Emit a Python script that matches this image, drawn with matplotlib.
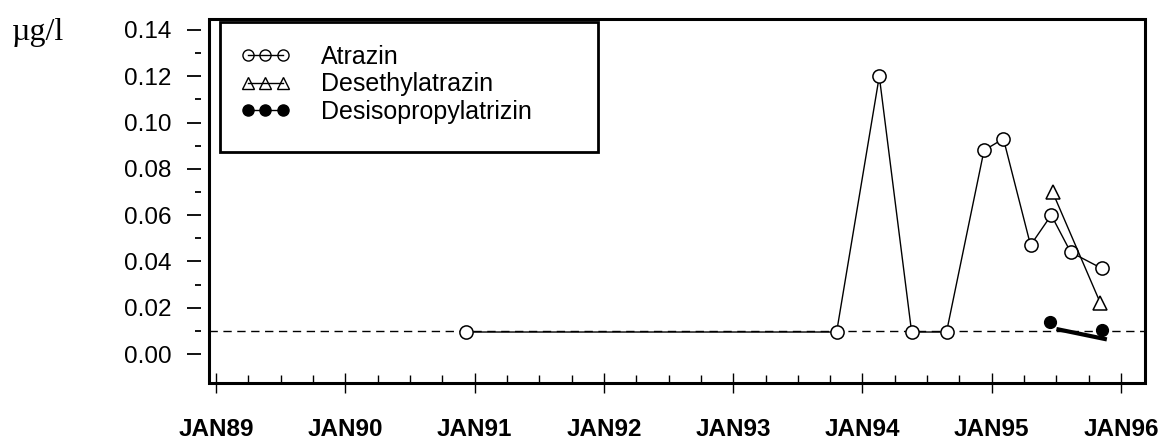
import matplotlib
matplotlib.use("Agg")
import matplotlib.pyplot as plt
from matplotlib.lines import Line2D
from matplotlib.patches import Rectangle
from matplotlib.ticker import FixedLocator, MultipleLocator

plt.rcParams['font.family'] = ['Liberation Sans', 'DejaVu Sans']

# ---- data (decimal years, µg/l) ----
atrazin_x = [1990.93, 1993.80, 1994.13, 1994.38, 1994.65, 1994.94, 1995.09, 1995.30, 1995.46, 1995.61, 1995.85]
atrazin_y = [0.0095, 0.0095, 0.120, 0.0095, 0.0095, 0.088, 0.093, 0.047, 0.060, 0.044, 0.037]

desethyl_x = [1995.47, 1995.84]
desethyl_y = [0.070, 0.022]

desiso_x = [1995.45, 1995.85]
desiso_y = [0.014, 0.0105]

desiso_line_x = [1995.50, 1995.89]
desiso_line_y = [0.0108, 0.0063]

limit_value = 0.01

year_ticks = [1989, 1990, 1991, 1992, 1993, 1994, 1995, 1996]
year_labels = ['JAN89', 'JAN90', 'JAN91', 'JAN92', 'JAN93', 'JAN94', 'JAN95', 'JAN96']
y_ticks = [0.00, 0.02, 0.04, 0.06, 0.08, 0.10, 0.12, 0.14]
y_minor = [0.01, 0.03, 0.05, 0.07, 0.09, 0.11, 0.13]
y_labels = ['0.00', '0.02', '0.04', '0.06', '0.08', '0.10', '0.12', '0.14']

W, H = 1159, 445
fig = plt.figure(figsize=(W / 100, H / 100), dpi=100)
ax = fig.add_axes([209 / W, 1 - 383 / H, (1145 - 209) / W, (383 - 19) / H])

ax.set_xlim(1988.946, 1996.185)
ax.set_ylim(-0.01253, 0.14475)

# frame
for s in ax.spines.values():
    s.set_visible(False)
ax.spines['left'].set_position(('outward', 6))
ax.patch.set_edgecolor('black')
ax.patch.set_linewidth(2.2)

# detection limit
ax.axhline(limit_value, color='black', lw=1.0, linestyle=(0, (6, 4)), zorder=1)

ms = 9.5
ax.plot(atrazin_x, atrazin_y, color='black', lw=1.0, marker='o', ms=ms,
        mfc='white', mec='black', mew=1.1, zorder=3)
ax.plot(desethyl_x, desethyl_y, color='black', lw=1.0, marker='^', ms=ms,
        mfc='white', mec='black', mew=1.1, zorder=3)
ax.plot(desiso_x, desiso_y, color='black', lw=0, marker='o', ms=8.5,
        mfc='black', mec='black', zorder=4)
ax.plot(desiso_line_x, desiso_line_y, color='black', lw=3.0, zorder=4,
        solid_capstyle='butt')

# ticks
ax.xaxis.set_major_locator(FixedLocator(year_ticks))
ax.set_xticklabels(year_labels, fontsize=17.5, fontweight='bold')
ax.xaxis.set_minor_locator(MultipleLocator(0.25))
ax.tick_params(axis='x', which='major', direction='inout', length=14, width=1.0,
               pad=18, bottom=True, top=False)
ax.tick_params(axis='x', which='minor', direction='in', length=5.5, width=1.0,
               bottom=True, top=False)

ax.yaxis.set_major_locator(FixedLocator(y_ticks))
ax.set_yticklabels(y_labels, fontsize=17.5)
ax.yaxis.set_minor_locator(FixedLocator(y_minor))
ax.tick_params(axis='y', which='major', direction='out', length=10, width=1.3,
               pad=11, left=True, right=False)
ax.tick_params(axis='y', which='minor', direction='out', length=4.5, width=1.3,
               left=True, right=False)

# unit label
fig.text(12 / W, 1 - 40 / H, 'µg/l', fontsize=23, family=['Liberation Serif', 'DejaVu Serif'],
         ha='left', va='baseline')

# legend frame
fig.add_artist(Rectangle((220 / W, 1 - 152 / H), (598 - 220) / W, (152 - 22) / H,
                         transform=fig.transFigure, fill=False, ec='black', lw=2.0))

handles = [
    Line2D([], [], color='black', lw=1.0, marker='o', ms=8, mfc='none', mec='black', mew=1.0),
    Line2D([], [], color='black', lw=1.0, marker='^', ms=8, mfc='none', mec='black', mew=1.0),
    Line2D([], [], color='black', lw=1.0, marker='o', ms=8, mfc='black', mec='black'),
]
fig.legend(handles, ['Atrazin', 'Desethylatrazin', 'Desisopropylatrizin'],
           loc='upper left', bbox_to_anchor=(240 / W, 1 - 45 / H),
           frameon=False, numpoints=3, fontsize=18, handlelength=2.0,
           handletextpad=1.25, labelspacing=0.13, borderpad=0, borderaxespad=0)

fig.savefig('out.png', dpi=100)
